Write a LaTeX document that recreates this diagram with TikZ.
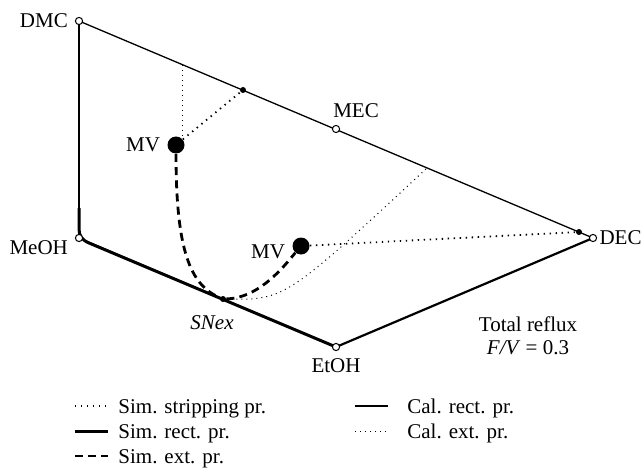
\documentclass[tikz,border=0pt]{standalone}
\usepackage{fontspec}
\setmainfont{Liberation Serif}
\usetikzlibrary{positioning}

\tikzset{
  vertex/.style = {circle, draw, fill = white, line width = 0.5pt, inner sep = 0pt, minimum size = 3.6pt},
  mvdot/.style = {circle, fill, inner sep = 0pt, minimum size = 8.5pt},
  pdot/.style = {circle, fill, inner sep = 0pt, minimum size = 3pt},
  simstrip/.style = {line width = 0.9pt, dash pattern = on 0.7pt off 2.3pt},
  simrect/.style = {line width = 1.5pt},
  simext/.style = {line width = 1.4pt, dash pattern = on 4pt off 2.6pt},
  calrect/.style = {line width = 0.65pt},
  calext/.style = {line width = 0.5pt, dash pattern = on 0.5pt off 2pt}
}

\begin{document}
\begin{tikzpicture}[x = 0.5pt, y = -0.5pt, font = \fontsize{10.5}{11.5}\selectfont]
	 \useasboundingbox (0, 0) rectangle (641, 470);
	 
	 % corners of the diagram
	 \coordinate (dmcc) at (79, 21);
	 \coordinate (meohc) at (79, 238);
	 \coordinate (etohc) at (336, 347);
	 \coordinate (decc) at (593, 238);
	 
	 % edges
	 \draw[calrect] (dmcc) -- (meohc);
	 \draw[calrect] (dmcc) -- (decc);
	 \draw[calrect] (meohc) -- (etohc);
	 \draw[line width = 1.1pt] (etohc) -- (decc);
	 
	 % simulated rectifying profile
	 \coordinate (rs) at (79, 208);
	 \draw[simrect] (rs) -- (79, 229) .. controls (79, 236) and (82, 240) .. (89, 243) -- (etohc);
	 
	 \node[vertex] (dmc) at (dmcc) {};
	 \node[vertex] (meoh) at (meohc) {};
	 \node[vertex] (etoh) at (etohc) {};
	 \node[vertex] (dec) at (decc) {};
	 \node[vertex] (mec) at (336, 129) {};
	 
	 \node[anchor = east] at (dmc.west) {DMC};
	 \node[anchor = east] at ([yshift = -5]meoh.west) {MeOH};
	 \node[anchor = north] at (etoh.south) {EtOH};
	 \node[anchor = west, inner sep = 1pt] at (dec.east) {DEC};
	 \node[anchor = south] at ([xshift = 10]mec.north) {MEC};
	 
	 % points on the profiles
	 \node[mvdot] (mva) at (176, 145) {};
	 \node[mvdot] (mvb) at (301, 246) {};
	 \node[pdot] (pa) at (243, 90) {};
	 \node[pdot] (pb) at (579, 232) {};
	 \node[pdot] (snex) at (223, 299) {};
	 \coordinate (ca) at (182, 65);
	 \coordinate (ce) at (182, 137);
	 \coordinate (cb) at (427, 168);
	 
	 \node[anchor = east] at (mva.west) {MV};
	 \node[anchor = east] at ([yshift = -3]mvb.west) {MV};
	 \node[anchor = north, font = \fontsize{10.5}{11.5}\selectfont\itshape] at (212, 309) {SNex};
	 \node[align = center] at (528, 336) {Total reflux\\\textit{F/V} = 0.3};
	 
	 % stripping profiles
	 \draw[simstrip] (mva) -- (pa);
	 \draw[simstrip] (mvb) -- (pb);
	 
	 % calculated extractive profiles
	 \draw[calext] (ca) -- (ce);
	 \draw[calext] (snex) .. controls (285, 300) .. (cb);
	 
	 % simulated extractive profiles
	 \draw[simext] (mva) .. controls (176, 250) and (190, 285) .. (snex);
	 \draw[simext] (snex) .. controls (260, 298) and (285, 265) .. (mvb);
	 
	 % legend
	 \foreach \sty/\txt [count = \i] in {simstrip/Sim. stripping pr., simrect/Sim. rect. pr., simext/Sim. ext. pr.}
	 {
	 \draw[\sty] (75, 381 + 25 * \i) -- (108, 381 + 25 * \i);
	 \node[anchor = base west, inner sep = 0pt] at (118, 388 + 25 * \i) {\txt};
	 }
	 \foreach \sty/\txt [count = \i] in {calrect/Cal. rect. pr., calext/Cal. ext. pr.}
	 {
	 \draw[\sty] (355, 381 + 25 * \i) -- (388, 381 + 25 * \i);
	 \node[anchor = base west, inner sep = 0pt] at (407, 388 + 25 * \i) {\txt};
	 }
\end{tikzpicture}
\end{document}
